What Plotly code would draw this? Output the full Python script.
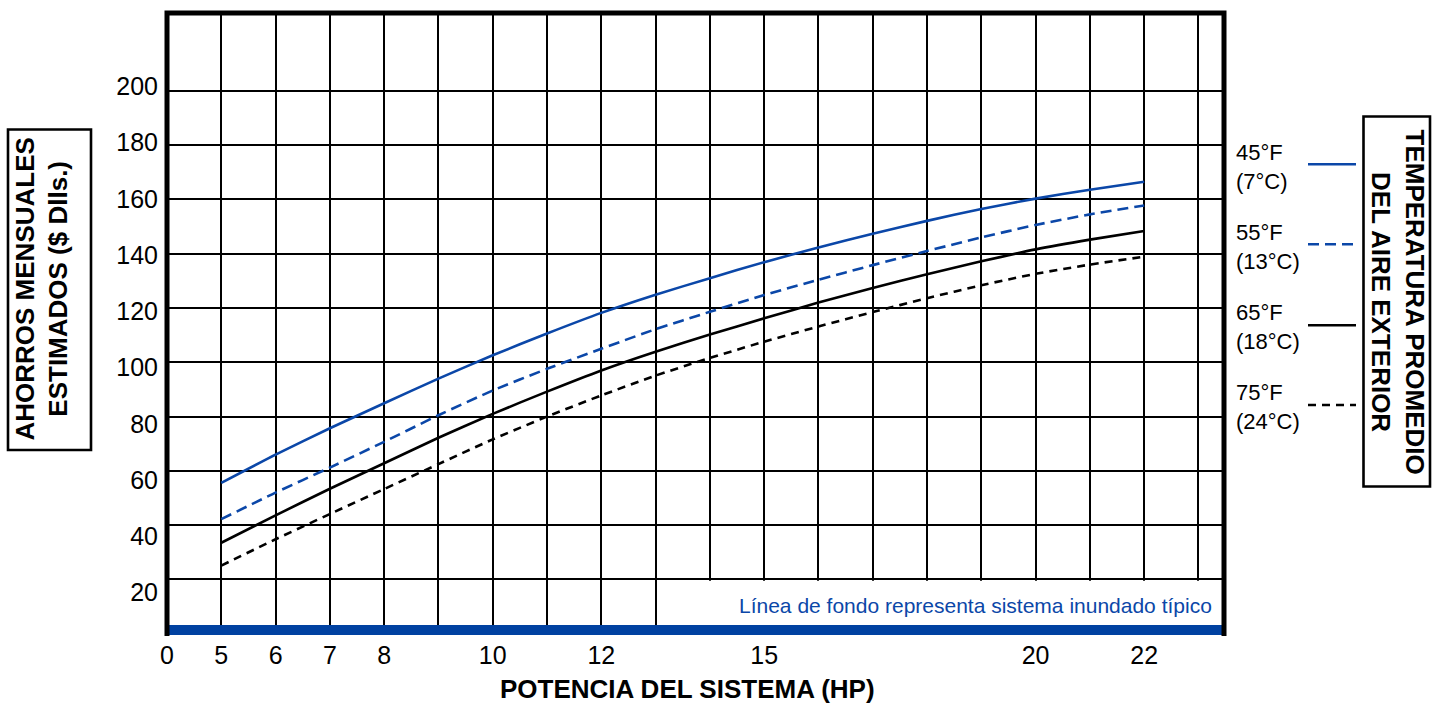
import plotly.graph_objects as go

# ---------------- data ----------------
HP = [5, 6, 7, 8, 9, 10, 11, 12, 13, 14, 15, 16, 17, 18, 19, 20, 21, 22]
S45 = [55.6, 66.0, 75.7, 84.9, 94.0, 102.6, 110.6, 118.2, 124.9, 131.0, 136.9, 142.3, 147.4, 152.1, 156.5, 160.3, 163.6, 166.5]
S55 = [42.2, 52.0, 61.2, 70.7, 80.5, 89.6, 97.6, 105.0, 112.2, 118.6, 124.8, 130.4, 135.8, 141.0, 146.0, 150.6, 154.5, 157.8]
S65 = [33.5, 43.6, 53.4, 62.8, 72.2, 81.0, 89.2, 97.0, 103.9, 110.2, 116.2, 122.0, 127.4, 132.4, 137.2, 141.6, 145.2, 148.4]
S75 = [25.1, 34.8, 44.1, 53.3, 62.5, 71.6, 80.0, 87.8, 95.1, 101.6, 107.6, 113.2, 118.5, 123.6, 128.4, 132.6, 136.0, 138.9]

SERIES_NAMES = ["45°F<br>(7°C)", "55°F<br>(13°C)", "65°F<br>(18°C)", "75°F<br>(24°C)"]
X_TICK_HP = [0, 5, 6, 7, 8, 10, 12, 15, 20, 22]
Y_TICKS = [20, 40, 60, 80, 100, 120, 140, 160, 180, 200]

BLUE = "#0b47a8"
BAND = "#0041a1"
FONT = "Liberation Sans, Arial, Helvetica, sans-serif"


# broken x axis: HP 0 sits one grid cell to the left of HP 5
def hp_to_axis(h):
    return 0 if h == 0 else h - 4


X_MAX = 19.47
Y_RANGE = [-0.48, 228.7]
Y_LABEL_RANGE = [4.96, 226.1]

W, H = 1438, 705
ML, MR, MT, MB = 167, 214, 13, 70
PW, PH = W - ML - MR, H - MT - MB


def px2x(p):
    return (p - ML) / PW


def px2y(p):
    return (H - MB - p) / PH


xs = [hp_to_axis(h) for h in HP]

fig = go.Figure()
styles = [
    (S45, BLUE, None),
    (S55, BLUE, "11px,6px"),
    (S65, "black", None),
    (S75, "black", "8px,6px"),
]
for (vals, col, dash), name in zip(styles, SERIES_NAMES):
    fig.add_trace(go.Scatter(
        x=xs, y=vals, mode="lines", name=name.replace("<br>", " "),
        line=dict(color=col, width=2.6, dash=dash, shape="spline", smoothing=0.5),
        showlegend=False, hoverinfo="skip"))

# empty trace so the label axis (y2) is rendered
fig.add_trace(go.Scatter(x=[], y=[], yaxis="y2", mode="lines",
                         showlegend=False, hoverinfo="skip"))

shapes = []
# white area behind note (grid stops at the 20 line)
shapes.append(dict(type="rect", xref="x", yref="y", x0=9.5, x1=X_MAX, y0=3.2, y1=19.55,
                   fillcolor="white", line=dict(width=0), layer="above"))
# blue baseline band
shapes.append(dict(type="rect", xref="x", yref="y", x0=0, x1=X_MAX, y0=Y_RANGE[0], y1=3.2,
                   fillcolor=BAND, line=dict(width=0), layer="above"))
# heavy frame (left, top, right)
shapes.append(dict(type="path", xref="paper", yref="paper",
                   path=f"M 0,{-1.0/PH} L 0,1 L 1,1 L 1,{-1.0/PH}",
                   line=dict(color="black", width=5), layer="above"))

# legend keys (line samples) to the right of the chart
key_y = [164.3, 244.3, 325.3, 405.0]
for (vals, col, dash), ky in zip(styles, key_y):
    shapes.append(dict(type="line", xref="paper", yref="paper",
                       x0=px2x(1308), x1=px2x(1356), y0=px2y(ky), y1=px2y(ky),
                       line=dict(color=col, width=2.6, dash=dash)))

# boxes for side titles
shapes.append(dict(type="rect", xref="paper", yref="paper",
                   x0=px2x(1363.5), x1=px2x(1430), y0=px2y(486.5), y1=px2y(116.5),
                   line=dict(color="black", width=2.6)))
shapes.append(dict(type="rect", xref="paper", yref="paper",
                   x0=px2x(8), x1=px2x(91), y0=px2y(450), y1=px2y(129.5),
                   line=dict(color="black", width=2.6)))

annotations = []
text_y = [167.2, 246.7, 326.7, 407.2]
for name, ty in zip(SERIES_NAMES, text_y):
    annotations.append(dict(text=name, xref="paper", yref="paper", x=px2x(1234), y=px2y(ty),
                            xanchor="left", yanchor="middle", align="left", showarrow=False,
                            font=dict(family=FONT, size=22, color="black")))
annotations.append(dict(text="<b>TEMPERATURA PROMEDIO<br>DEL AIRE EXTERIOR</b>",
                        xref="paper", yref="paper", x=px2x(1398), y=px2y(301.5),
                        xanchor="center", yanchor="middle", textangle=90, showarrow=False,
                        font=dict(family=FONT, size=26, color="black")))
annotations.append(dict(text="<b>AHORROS MENSUALES<br>ESTIMADOS ($ Dlls.)</b>",
                        xref="paper", yref="paper", x=px2x(41), y=px2y(289.5),
                        xanchor="center", yanchor="middle", textangle=-90, showarrow=False,
                        font=dict(family=FONT, size=26, color="black")))
annotations.append(dict(text="<b>POTENCIA DEL SISTEMA (HP)</b>",
                        xref="paper", yref="paper", x=px2x(687), y=px2y(689),
                        xanchor="center", yanchor="middle", showarrow=False,
                        font=dict(family=FONT, size=26, color="black")))
annotations.append(dict(text="Línea de fondo representa sistema inundado típico",
                        xref="paper", yref="paper", x=px2x(1214), y=px2y(605),
                        xanchor="right", yanchor="middle", showarrow=False,
                        font=dict(family=FONT, size=21, color=BLUE)))

fig.update_layout(
    width=W, height=H, autosize=False,
    margin=dict(l=ML, r=MR, t=MT, b=MB, pad=0),
    paper_bgcolor="white", plot_bgcolor="white",
    font=dict(family=FONT, color="black"),
    showlegend=False,
    shapes=shapes,
    annotations=annotations,
    xaxis=dict(range=[0, X_MAX], tickvals=[hp_to_axis(h) for h in X_TICK_HP],
               ticktext=[str(h) for h in X_TICK_HP],
               showgrid=True, gridcolor="black", gridwidth=2, zeroline=False,
               ticks="", ticklabelstandoff=3,
               tickfont=dict(family=FONT, size=25, color="black"),
               minor=dict(dtick=1, tick0=0, showgrid=True, gridcolor="black", gridwidth=2, ticks=""),
               showline=False, fixedrange=True),
    yaxis=dict(range=Y_RANGE, tickvals=Y_TICKS, showticklabels=False,
               showgrid=True, gridcolor="black", gridwidth=2, zeroline=False,
               ticks="", showline=False, fixedrange=True),
    yaxis2=dict(range=Y_LABEL_RANGE, overlaying="y", side="left", anchor="x",
                tickvals=Y_TICKS, ticktext=[str(v) for v in Y_TICKS],
                showgrid=False, zeroline=False, ticks="", showline=False,
                ticklabelstandoff=8,
                tickfont=dict(family=FONT, size=25, color="black"), fixedrange=True),
)

fig.write_html("out.html", config={"displayModeBar": False},
               post_script="document.body.style.margin='0';document.body.style.overflow='hidden';")
